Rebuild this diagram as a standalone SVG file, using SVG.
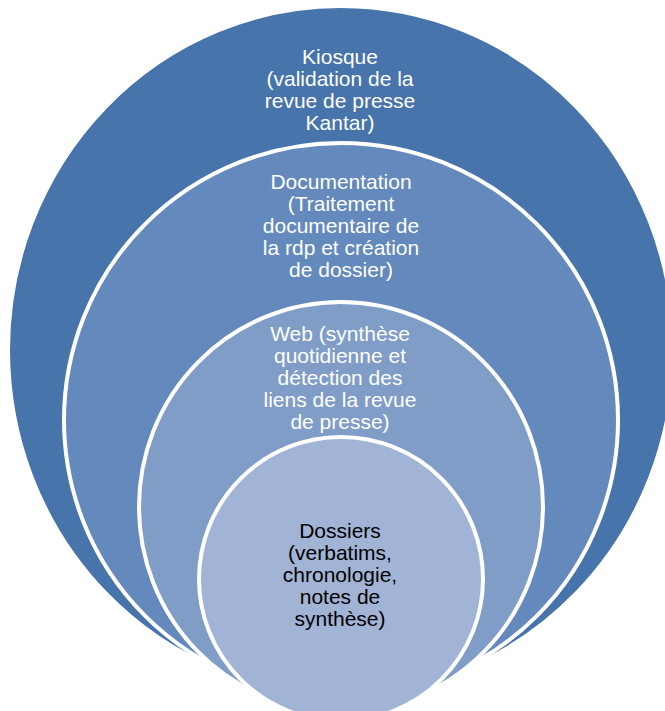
<svg xmlns="http://www.w3.org/2000/svg" width="665" height="711" viewBox="0 0 665 711">
  <style>
    .ring { stroke: #FFFFFF; stroke-width: 4; }
    .lbl { font-family: "Liberation Sans", Arial, sans-serif; font-size: 21px; text-anchor: middle; }
    .light { fill: #FFFFFF; }
    .dark { fill: #000000; }
  </style>
  <rect x="0" y="0" width="665" height="711" fill="#FFFFFF"/>
  <g id="kiosque">
    <ellipse class="ring" cx="341" cy="350" rx="333" ry="344" fill="#4774AA"/>
    <text class="lbl light"><tspan x="340" y="64">Kiosque</tspan><tspan x="340" y="86">(validation de la</tspan><tspan x="340" y="108">revue de presse</tspan><tspan x="340" y="130">Kantar)</tspan></text>
  </g>
  <g id="documentation">
    <circle class="ring" cx="341" cy="420" r="277" fill="#6489BD"/>
    <text class="lbl light"><tspan x="341" y="189">Documentation</tspan><tspan x="341" y="211">(Traitement</tspan><tspan x="341" y="233">documentaire de</tspan><tspan x="341" y="255">la rdp et création</tspan><tspan x="341" y="277">de dossier)</tspan></text>
  </g>
  <g id="web">
    <ellipse class="ring" cx="341" cy="507" rx="202" ry="205" fill="#809DC8"/>
    <text class="lbl light"><tspan x="340" y="341">Web (synthèse</tspan><tspan x="340" y="363">quotidienne et</tspan><tspan x="340" y="385">détection des</tspan><tspan x="340" y="407">liens de la revue</tspan><tspan x="340" y="429">de presse)</tspan></text>
  </g>
  <g id="dossiers">
    <circle class="ring" cx="341" cy="579" r="142" fill="#A2B4D6"/>
    <text class="lbl dark"><tspan x="340" y="538">Dossiers</tspan><tspan x="340" y="560">(verbatims,</tspan><tspan x="340" y="582">chronologie,</tspan><tspan x="340" y="604">notes de</tspan><tspan x="340" y="626">synthèse)</tspan></text>
  </g>
</svg>
